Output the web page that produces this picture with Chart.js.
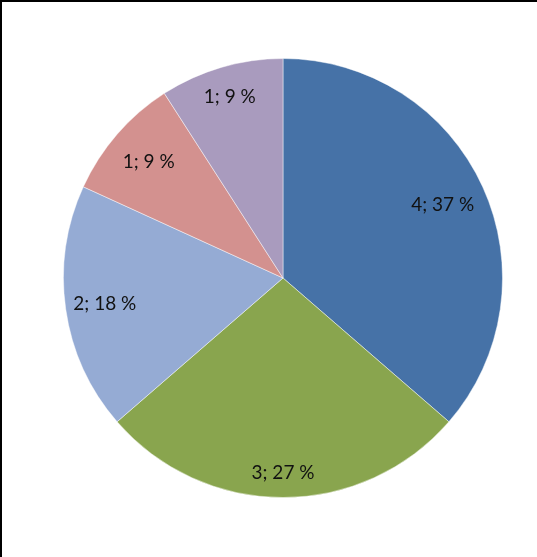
<!DOCTYPE html>
<html>
<head>
<meta charset="utf-8">
<script src="https://cdn.jsdelivr.net/npm/chart.js@4"></script>
<style>
  html, body { margin: 0; padding: 0; background: #fff; }
  #wrap { position: relative; width: 537px; height: 557px; }
  #frame { position: absolute; left: 0; top: 0; width: 537px; height: 557px;
           border-top: 2px solid #000; border-left: 2px solid #000;
           box-sizing: border-box; pointer-events: none; }
  canvas { position: absolute; left: 0; top: 0; }
</style>
</head>
<body>
<div id="wrap">
  <canvas id="pieChart" width="537" height="557"></canvas>
  <div id="frame"></div>
</div>
<script>
const categories = ['A', 'B', 'C', 'D', 'E'];
const values = [4, 3, 2, 1, 1];
const percents = [37, 27, 18, 9, 9];
const colors = ['#4672A7', '#89A54E', '#95ABD4', '#D3918F', '#A99BBE'];

// where each label sits, as a fraction of the radius (Excel best fit)
const labelRadius = [0.8, 0.89, 0.82, 0.81, 0.86];

const sliceLabels = {
  id: 'sliceLabels',
  afterDatasetsDraw(chart) {
    const ctx = chart.ctx;
    const arcs = chart.getDatasetMeta(0).data;
    ctx.save();
    ctx.font = '19px Lato';
    ctx.fillStyle = '#111';
    ctx.textAlign = 'center';
    ctx.textBaseline = 'middle';
    arcs.forEach((arc, i) => {
      const mid = (arc.startAngle + arc.endAngle) / 2;
      const r = arc.outerRadius * labelRadius[i];
      const x = arc.x + Math.cos(mid) * r;
      const y = arc.y + Math.sin(mid) * r;
      ctx.fillText(values[i] + '; ' + percents[i] + ' %', x, y);
    });
    ctx.restore();
  }
};

const ctx = document.getElementById('pieChart').getContext('2d');

const pieChart = new Chart(ctx, {
  type: 'pie',
  data: {
    labels: categories,
    datasets: [{
      data: values,
      backgroundColor: colors,
      borderColor: 'rgba(255,255,255,0.45)',
      borderWidth: 1,
    }]
  },
  options: {
    responsive: false,
    animation: false,
    devicePixelRatio: 1,
    layout: {
      padding: { left: 63, right: 34, top: 58, bottom: 59 }
    },
    plugins: {
      legend: { display: false },
      tooltip: { enabled: false }
    }
  },
  plugins: [sliceLabels]
});
</script>
</body>
</html>
